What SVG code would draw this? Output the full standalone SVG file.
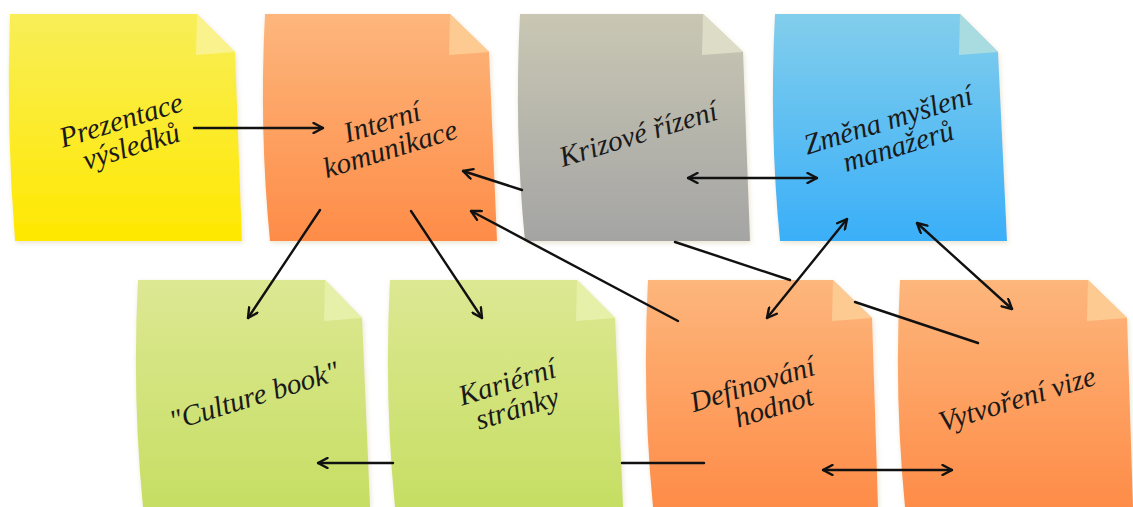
<svg xmlns="http://www.w3.org/2000/svg" width="1133" height="507" viewBox="0 0 1133 507">
  <defs>
    <linearGradient id="gYellow" x1="0" y1="0" x2="0" y2="1">
      <stop offset="0" stop-color="#F8EE58"/>
      <stop offset="1" stop-color="#FFE800"/>
    </linearGradient>
    <linearGradient id="gOrange" x1="0" y1="0" x2="0" y2="1">
      <stop offset="0" stop-color="#FDB67C"/>
      <stop offset="1" stop-color="#FE8C48"/>
    </linearGradient>
    <linearGradient id="gGray" x1="0" y1="0" x2="0" y2="1">
      <stop offset="0" stop-color="#C9C7B3"/>
      <stop offset="1" stop-color="#A4A4A4"/>
    </linearGradient>
    <linearGradient id="gBlue" x1="0" y1="0" x2="0" y2="1">
      <stop offset="0" stop-color="#82CEEC"/>
      <stop offset="1" stop-color="#3AAFF8"/>
    </linearGradient>
    <linearGradient id="gGreen" x1="0" y1="0" x2="0" y2="1">
      <stop offset="0" stop-color="#DDE893"/>
      <stop offset="1" stop-color="#C6DE63"/>
    </linearGradient>
    <filter id="halo" x="-5%" y="-5%" width="110%" height="110%">
      <feDropShadow dx="1" dy="2" stdDeviation="2.5" flood-color="#d8cca8" flood-opacity="0.55"/>
    </filter>
    <marker id="arrow" viewBox="0 0 12 12" refX="11" refY="6" markerWidth="12" markerHeight="12" markerUnits="userSpaceOnUse" orient="auto-start-reverse">
      <path d="M1.5,1 L11,6 L1.5,11" fill="none" stroke="#111" stroke-width="2.4" stroke-linecap="round" stroke-linejoin="round"/>
    </marker>
    <style>
      .note { filter: url(#halo); }
      .label { font-family: "Liberation Serif", "DejaVu Serif", serif; font-style: italic; font-size: 29px; fill: #1a1a1a; text-anchor: middle; }
      .conn { fill: none; stroke: #111; stroke-width: 2.4; stroke-linecap: round; }
      .fYellow { fill: #FAF28C; }
      .fOrange { fill: #FDCB92; }
      .fGray { fill: #DDDCC6; }
      .fBlue { fill: #A9DCE0; }
      .fGreen { fill: #E7F0A9; }
    </style>
  </defs>

  <rect width="1133" height="507" fill="#FFFFFF"/>

  <g id="node-prezentace">
    <path class="note" fill="url(#gYellow)" d="M10,14 L197,14 L235,52 L242,241 L15,241 Q6,130 10,14 Z"/>
    <path class="fYellow" d="M197,14 L235,52 L196,55 Z"/>
    <g transform="translate(125,133) rotate(-17)">
      <text class="label"><tspan x="0" y="-4">Prezentace</tspan><tspan x="2" y="24">výsledků</tspan></text>
    </g>
  </g>

  <g id="node-interni">
    <path class="note" fill="url(#gOrange)" d="M265,14 L450,14 L489,52 L497,241 L270,241 Q259,130 265,14 Z"/>
    <path class="fOrange" d="M450,14 L489,52 L449,55 Z"/>
    <g transform="translate(386,135) rotate(-17)">
      <text class="label"><tspan x="0" y="-4">Interní</tspan><tspan x="0" y="24">komunikace</tspan></text>
    </g>
  </g>

  <g id="node-krizove">
    <path class="note" fill="url(#gGray)" d="M520,14 L703,14 L743,52 L750,241 L525,241 Q514,130 520,14 Z"/>
    <path class="fGray" d="M703,14 L743,52 L702,55 Z"/>
    <g transform="translate(641,143) rotate(-17)">
      <text class="label"><tspan x="0" y="0">Krizové řízení</tspan></text>
    </g>
  </g>

  <g id="node-zmena">
    <path class="note" fill="url(#gBlue)" d="M775,14 L960,14 L998,52 L1007,241 L780,241 Q769,130 775,14 Z"/>
    <path class="fBlue" d="M960,14 L998,52 L959,55 Z"/>
    <g transform="translate(892,133) rotate(-17)">
      <text class="label"><tspan x="0" y="-4">Změna myšlení</tspan><tspan x="2" y="24">manažerů</tspan></text>
    </g>
  </g>

  <g id="node-culture">
    <path class="note" fill="url(#gGreen)" d="M138,280 L325,280 L362,318 L370,507 L143,507 Q132,395 138,280 Z"/>
    <path class="fGreen" d="M325,280 L362,318 L324,321 Z"/>
    <g transform="translate(257,405) rotate(-17)">
      <text class="label"><tspan x="0" y="0">"Culture book"</tspan></text>
    </g>
  </g>

  <g id="node-karierni">
    <path class="note" fill="url(#gGreen)" d="M390,280 L577,280 L615,318 L623,507 L395,507 Q384,395 390,280 Z"/>
    <path class="fGreen" d="M577,280 L615,318 L576,321 Z"/>
    <g transform="translate(511,395) rotate(-17)">
      <text class="label"><tspan x="0" y="-4">Kariérní</tspan><tspan x="2" y="24">stránky</tspan></text>
    </g>
  </g>

  <g id="node-definovani">
    <path class="note" fill="url(#gOrange)" d="M648,280 L833,280 L872,318 L878,507 L653,507 Q642,395 648,280 Z"/>
    <path class="fOrange" d="M833,280 L872,318 L832,321 Z"/>
    <g transform="translate(760,396) rotate(-17)">
      <text class="label"><tspan x="-4" y="-4">Definování</tspan><tspan x="10" y="24">hodnot</tspan></text>
    </g>
  </g>

  <g id="node-vytvoreni">
    <path class="note" fill="url(#gOrange)" d="M900,280 L1088,280 L1127,318 L1133,507 L905,507 Q894,395 900,280 Z"/>
    <path class="fOrange" d="M1088,280 L1127,318 L1087,321 Z"/>
    <g transform="translate(1020,408) rotate(-17)">
      <text class="label"><tspan x="0" y="0">Vytvoření vize</tspan></text>
    </g>
  </g>

  <g id="connectors">
    <path class="conn" marker-end="url(#arrow)" d="M194,128 L323,128"/>
    <path class="conn" marker-end="url(#arrow)" d="M320,210 L248,318"/>
    <path class="conn" marker-end="url(#arrow)" d="M411,211 L482,318"/>
    <path class="conn" marker-end="url(#arrow)" d="M978,343 L855,302 M790,280 L675,242 M522,190 L463,171"/>
    <path class="conn" marker-end="url(#arrow)" d="M678,321 L471,211"/>
    <path class="conn" marker-start="url(#arrow)" marker-end="url(#arrow)" d="M688,178 L817,178"/>
    <path class="conn" marker-start="url(#arrow)" marker-end="url(#arrow)" d="M767,318 L847,219"/>
    <path class="conn" marker-start="url(#arrow)" marker-end="url(#arrow)" d="M917,223 L1012,309"/>
    <path class="conn" marker-end="url(#arrow)" d="M704,463 L622,463 M393,463 L318,463"/>
    <path class="conn" marker-start="url(#arrow)" marker-end="url(#arrow)" d="M823,470 L952,470"/>
  </g>
</svg>
